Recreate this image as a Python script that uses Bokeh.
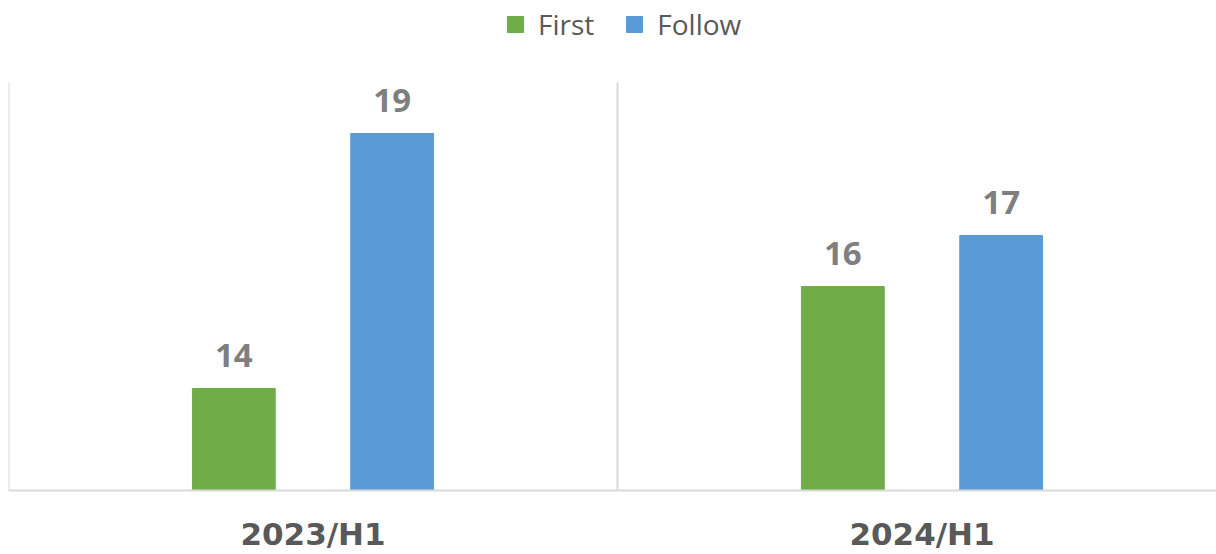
from bokeh.plotting import figure
from bokeh.models import (ColumnDataSource, Range1d, FixedTicker, Legend, LegendItem, LabelSet)
from bokeh.core.properties import value
from bokeh.embed import file_html
from bokeh.resources import INLINE

categories = ["2023/H1", "2024/H1"]
series = ["First", "Follow"]
first_values = [14, 16]
follow_values = [19, 17]
colors = ["#70ad47", "#5b9bd5"]
y_min, y_max = 12, 20

centers = [i + 0.5 for i in range(len(categories))]
bounds = [i for i in range(len(categories) + 1)]
offset = 0.13
bar_w = 0.136
px_per_unit = 408 / (y_max - y_min)

src_first = ColumnDataSource(dict(x=[c - offset for c in centers], top=first_values,
                                  lbl=[str(v) for v in first_values]))
src_follow = ColumnDataSource(dict(x=[c + offset for c in centers], top=follow_values,
                                   lbl=[str(v) for v in follow_values]))

p = figure(width=1216, height=554, output_backend="svg", toolbar_location=None,
           x_range=Range1d(0, 1208 / 609), y_range=Range1d(y_min, y_min + 490 / px_per_unit),
           y_axis_location=None, min_border_left=8, min_border_right=0,
           min_border_top=0, min_border_bottom=64)
p.outline_line_color = None
p.background_fill_color = "white"
p.border_fill_color = "white"

# category separators
p.segment(x0=bounds, y0=[y_min] * len(bounds), x1=bounds, y1=[y_max] * len(bounds),
          line_color="#d9d9d9", line_width=2)

r1 = p.vbar(x="x", top="top", bottom=0, width=bar_w, color=colors[0], source=src_first)
r2 = p.vbar(x="x", top="top", bottom=0, width=bar_w, color=colors[1], source=src_follow)

for s in (src_first, src_follow):
    p.add_layout(LabelSet(x="x", y="top", text="lbl", source=s, y_offset=22,
                          text_align="center", text_baseline="alphabetic",
                          text_font=value("Open Sans"), text_font_style="bold",
                          text_font_size=value("33px"), text_color="#7f7f7f"))

p.xaxis.ticker = FixedTicker(ticks=centers)
p.xaxis.major_label_overrides = {c: cat for c, cat in zip(centers, categories)}
p.xaxis.major_label_text_font = "DejaVu Sans"
p.xaxis.major_label_text_font_style = "bold"
p.xaxis.major_label_text_font_size = "31px"
p.xaxis.major_label_text_color = "#595959"
p.xaxis.major_label_standoff = 25
p.xaxis.axis_line_color = "#d9d9d9"
p.xaxis.axis_line_width = 2
p.xaxis.major_tick_line_color = None
p.xaxis.minor_tick_line_color = None
p.xaxis.major_tick_in = 0
p.xaxis.major_tick_out = 0

p.xgrid.grid_line_color = None
p.ygrid.grid_line_color = None

legend = Legend(items=[LegendItem(label=series[0], renderers=[r1]),
                       LegendItem(label=series[1], renderers=[r2])],
                orientation="horizontal", location=(497, 447),
                glyph_width=20, glyph_height=20, label_standoff=13, spacing=30,
                label_text_font="Open Sans", label_text_font_size="28px",
                label_text_color="#595959", border_line_color=None,
                background_fill_alpha=0, padding=6, margin=0)
p.add_layout(legend)

open("out.html", "w").write(file_html(p, INLINE))
